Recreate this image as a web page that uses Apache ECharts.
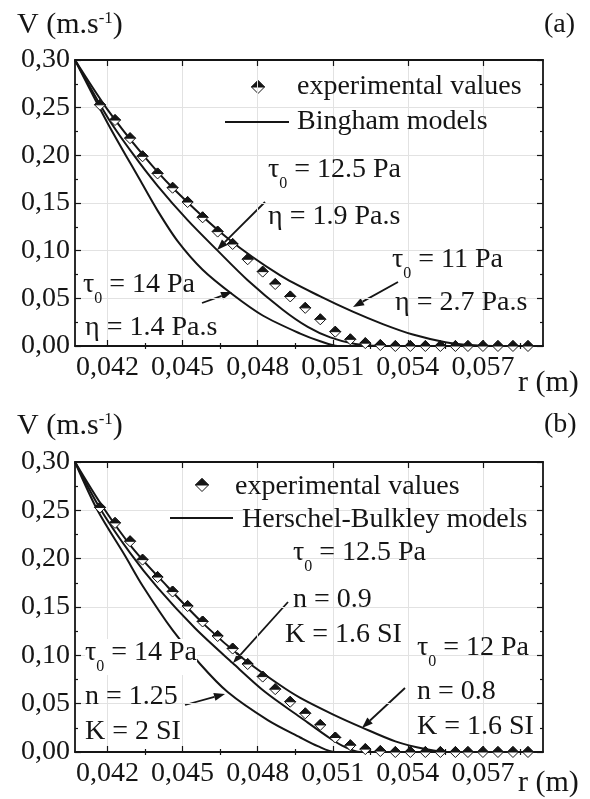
<!DOCTYPE html>
<html>
<head>
<meta charset="utf-8">
<script src="https://cdn.jsdelivr.net/npm/echarts@6/dist/echarts.min.js"></script>
<style>
html, body { margin: 0; padding: 0; background: #fff; }
#chart { width: 590px; height: 799px; }
</style>
</head>
<body>
<div id="chart"></div>
<script>
// axis ranges and ticks
const rMin = 0.0407;
const rMax = 0.0594;
const rMajor = [0.042, 0.045, 0.048, 0.051, 0.054, 0.057];
const rMinor = [0.0435, 0.0465, 0.0495, 0.0525, 0.0555, 0.0585];

// experimental values (same measurements in both panels)
const expR = [0.0417, 0.0423, 0.0429, 0.0434, 0.0440, 0.0446, 0.0452, 0.0458, 0.0464, 0.0470,
  0.0476, 0.0482, 0.0487, 0.0493, 0.0499, 0.0505, 0.0511, 0.0517, 0.0523, 0.0529,
  0.0535, 0.0541, 0.0547, 0.0553, 0.0559, 0.0564, 0.0570, 0.0576, 0.0582, 0.0588];
const expV = [0.253, 0.237, 0.218, 0.199, 0.181, 0.166, 0.151, 0.135, 0.120, 0.107,
  0.091, 0.078, 0.065, 0.052, 0.040, 0.028, 0.015, 0.007, 0.003, 0.001,
  0, 0, 0, 0, 0, 0, 0, 0, 0, 0];

// (a) Bingham models [r, V]
const bingham14 = [[0.0407, 0.300], [0.0420, 0.234], [0.0433, 0.174], [0.0440, 0.142], [0.0448, 0.110],
  [0.0458, 0.080], [0.0470, 0.054], [0.0482, 0.032], [0.0497, 0.013], [0.0505, 0.005], [0.0512, 0], [0.0594, 0]];
const bingham125 = [[0.0407, 0.300], [0.0420, 0.240], [0.0430, 0.202], [0.0440, 0.168], [0.0452, 0.132],
  [0.0464, 0.100], [0.0476, 0.069], [0.0490, 0.038], [0.0500, 0.020], [0.0509, 0.009], [0.0519, 0.002],
  [0.0529, 0], [0.0594, 0]];
const bingham11 = [[0.0407, 0.300], [0.0420, 0.248], [0.0434, 0.201], [0.0446, 0.166], [0.0468, 0.113],
  [0.0489, 0.074], [0.0505, 0.052], [0.0518, 0.036], [0.0530, 0.023], [0.0542, 0.012], [0.0555, 0.004],
  [0.0565, 0.001], [0.0574, 0], [0.0594, 0]];

// (b) Herschel-Bulkley models [r, V]
const hb14 = [[0.0407, 0.300], [0.0416, 0.250], [0.0427, 0.203], [0.0434, 0.172], [0.0446, 0.126],
  [0.0457, 0.091], [0.0468, 0.062], [0.0484, 0.033], [0.0497, 0.015], [0.0504, 0.006], [0.0511, 0], [0.0594, 0]];
const hb125 = [[0.0407, 0.300], [0.0417, 0.252], [0.0429, 0.206], [0.0440, 0.170], [0.0455, 0.128],
  [0.0470, 0.092], [0.0483, 0.062], [0.0497, 0.036], [0.0509, 0.014], [0.0515, 0.005], [0.0521, 0], [0.0594, 0]];
const hb12 = [[0.0407, 0.300], [0.0418, 0.254], [0.0430, 0.211], [0.0444, 0.171], [0.0459, 0.131],
  [0.0474, 0.097], [0.0489, 0.069], [0.0497, 0.056], [0.0510, 0.039], [0.0522, 0.025], [0.0535, 0.011],
  [0.0547, 0.003], [0.0556, 0], [0.0594, 0]];

const font = 'Liberation Serif';
const ink = '#151515';
const gridGrey = '#e2e2e2';

const chart = echarts.init(document.getElementById('chart'));

function xAxesFor(g) {
  const base = {
    type: 'value', gridIndex: g, min: rMin, max: rMax,
    axisLine: { show: false }, axisLabel: { show: false }, splitLine: { show: false }
  };
  const line = { show: true, onZero: false, lineStyle: { color: ink, width: 1.8 } };
  const tick = (vals, len) => ({ show: true, inside: true, length: len, customValues: vals, lineStyle: { color: ink, width: 1.2 } });
  return [
    Object.assign({}, base, {
      position: 'bottom', axisLine: line, axisTick: tick(rMajor, 6),
      axisLabel: {
        show: true, customValues: rMajor, margin: 8,
        formatter: v => v.toFixed(3).replace('.', ','),
        fontFamily: font, fontSize: 28, color: ink
      },
      splitLine: { show: true, lineStyle: { color: gridGrey, width: 1 } }
    }),
    Object.assign({}, base, { position: 'bottom', axisTick: tick(rMinor, 3) }),
    Object.assign({}, base, { position: 'top', axisLine: line, axisTick: tick(rMajor, 6) }),
    Object.assign({}, base, { position: 'top', axisTick: tick(rMinor, 3) })
  ];
}

function yAxesFor(g) {
  const base = {
    type: 'value', gridIndex: g, min: 0, max: 0.3, interval: 0.05,
    axisLine: { show: true, onZero: false, lineStyle: { color: ink, width: 1.8 } },
    axisTick: { show: true, inside: true, length: 6, lineStyle: { color: ink, width: 1.2 } },
    minorTick: { show: true, splitNumber: 2, length: 3, lineStyle: { color: ink, width: 1.2 } }
  };
  return [
    Object.assign({}, base, {
      position: 'left',
      axisLabel: {
        margin: 5, formatter: v => v.toFixed(2).replace('.', ','),
        fontFamily: font, fontSize: 28, color: ink
      },
      splitLine: { show: true, lineStyle: { color: gridGrey, width: 1 } }
    }),
    Object.assign({}, base, { position: 'right', axisLabel: { show: false }, splitLine: { show: false } })
  ];
}

function curve(data, xi, yi) {
  return {
    type: 'line', xAxisIndex: xi, yAxisIndex: yi, data: data,
    symbol: 'none', smooth: 0.3,
    lineStyle: { color: ink, width: 2 }, z: 3
  };
}

function halfDiamond(cx, cy, s) {
  return [
    { type: 'polygon', shape: { points: [[cx, cy - s], [cx + s, cy], [cx, cy + s], [cx - s, cy]] },
      style: { fill: '#fff', stroke: ink, lineWidth: 1 } },
    { type: 'polygon', shape: { points: [[cx - s, cy], [cx, cy - s], [cx + s, cy]] },
      style: { fill: ink, stroke: ink, lineWidth: 1 } }
  ];
}

function experimental(xi, yi) {
  return {
    type: 'custom', xAxisIndex: xi, yAxisIndex: yi, z: 4,
    data: expR.map((r, i) => [r, expV[i]]),
    renderItem: (params, api) => {
      const p = api.coord([api.value(0), api.value(1)]);
      return { type: 'group', children: halfDiamond(p[0], p[1], 5.5) };
    }
  };
}

const richStyles = {
  t: { fontSize: 28, fontFamily: font, lineHeight: 28, verticalAlign: 'top', fill: ink },
  s: { fontSize: 16, fontFamily: font, lineHeight: 36, verticalAlign: 'bottom', fill: ink },
  v: { fontSize: 30, fontFamily: font, lineHeight: 32, verticalAlign: 'top', fill: ink },
  p: { fontSize: 17, fontFamily: font, lineHeight: 17, verticalAlign: 'top', fill: ink }
};

function label(x, yc, text, bg) {
  return {
    type: 'text', z: 100, x: x, y: yc - 16,
    style: {
      text: text, fill: ink, fontFamily: font, fontSize: 28,
      verticalAlign: 'top', rich: richStyles,
      backgroundColor: bg || 'transparent'
    }
  };
}

function tau(value) {
  return '{t|τ}{s|0}{t| = ' + value + '}';
}

function plain(x, yc, text, size) {
  return {
    type: 'text', z: 100, x: x, y: yc,
    style: { text: text, fill: ink, fontFamily: font, fontSize: size || 28, verticalAlign: 'middle' }
  };
}

function arrow(x1, y1, x2, y2) {
  const a = Math.atan2(y2 - y1, x2 - x1);
  const L = 11, w = 4;
  const bx = x2 - L * Math.cos(a), by = y2 - L * Math.sin(a);
  return {
    type: 'group', z: 100,
    children: [
      { type: 'line', shape: { x1: x1, y1: y1, x2: bx, y2: by }, style: { stroke: ink, lineWidth: 1.8 } },
      { type: 'polygon', shape: { points: [[x2, y2], [bx + w * Math.sin(a), by - w * Math.cos(a)], [bx - w * Math.sin(a), by + w * Math.cos(a)]] },
        style: { fill: ink } }
    ]
  };
}

function legendLine(x1, x2, y) {
  return { type: 'line', z: 100, shape: { x1: x1, y1: y, x2: x2, y2: y }, style: { stroke: ink, lineWidth: 2 } };
}

const option = {
  animation: false,
  backgroundColor: '#fff',
  grid: [
    { left: 75, top: 60, width: 468, height: 286 },
    { left: 75, top: 462, width: 468, height: 290 }
  ],
  xAxis: xAxesFor(0).concat(xAxesFor(1)),
  yAxis: yAxesFor(0).concat(yAxesFor(1)),
  series: [
    curve(bingham14, 0, 0),
    curve(bingham125, 0, 0),
    curve(bingham11, 0, 0),
    experimental(0, 0),
    curve(hb14, 4, 2),
    curve(hb125, 4, 2),
    curve(hb12, 4, 2),
    experimental(4, 2)
  ],
  graphic: [
    // panel (a)
    { type: 'text', z: 100, x: 17, y: 10, style: { text: '{v|V (m.s}{p|-1}{v|)}', rich: richStyles, verticalAlign: 'top' } },
    plain(544, 25, '(a)'),
    plain(518, 383, 'r (m)', 30),
    { type: 'group', z: 100, children: halfDiamond(258, 87, 6.5) },
    plain(297, 87, 'experimental values'),
    legendLine(225, 289, 122),
    plain(297, 122, 'Bingham models'),
    label(268, 172, tau('12.5 Pa')),
    plain(268, 217, 'η = 1.9 Pa.s'),
    label(392, 262, tau('11 Pa')),
    plain(395, 303, 'η = 2.7 Pa.s'),
    label(83, 287, tau('14 Pa')),
    plain(85, 328, 'η = 1.4 Pa.s'),
    arrow(265, 202, 217, 250),
    arrow(202, 303, 232, 292),
    arrow(398, 282, 353, 307),
    // panel (b)
    { type: 'text', z: 100, x: 17, y: 411, style: { text: '{v|V (m.s}{p|-1}{v|)}', rich: richStyles, verticalAlign: 'top' } },
    plain(544, 425, '(b)'),
    plain(518, 783, 'r (m)', 30),
    { type: 'group', z: 100, children: halfDiamond(202, 485, 6.5) },
    plain(235, 487, 'experimental values'),
    legendLine(170, 233, 518),
    plain(242, 520, 'Herschel-Bulkley models'),
    label(293, 555, tau('12.5 Pa')),
    plain(293, 600, 'n = 0.9'),
    plain(285, 635, 'K = 1.6 SI'),
    label(417, 650, tau('12 Pa')),
    plain(417, 692, 'n = 0.8'),
    plain(417, 727, 'K = 1.6 SI'),
    label(85, 655, tau('14 Pa'), '#fff'),
    plain(85, 697, 'n = 1.25'),
    plain(85, 732, 'K = 2 SI'),
    arrow(288, 602, 233, 663),
    arrow(185, 705, 225, 694),
    arrow(405, 688, 362, 728)
  ]
};

chart.setOption(option);
</script>
</body>
</html>
